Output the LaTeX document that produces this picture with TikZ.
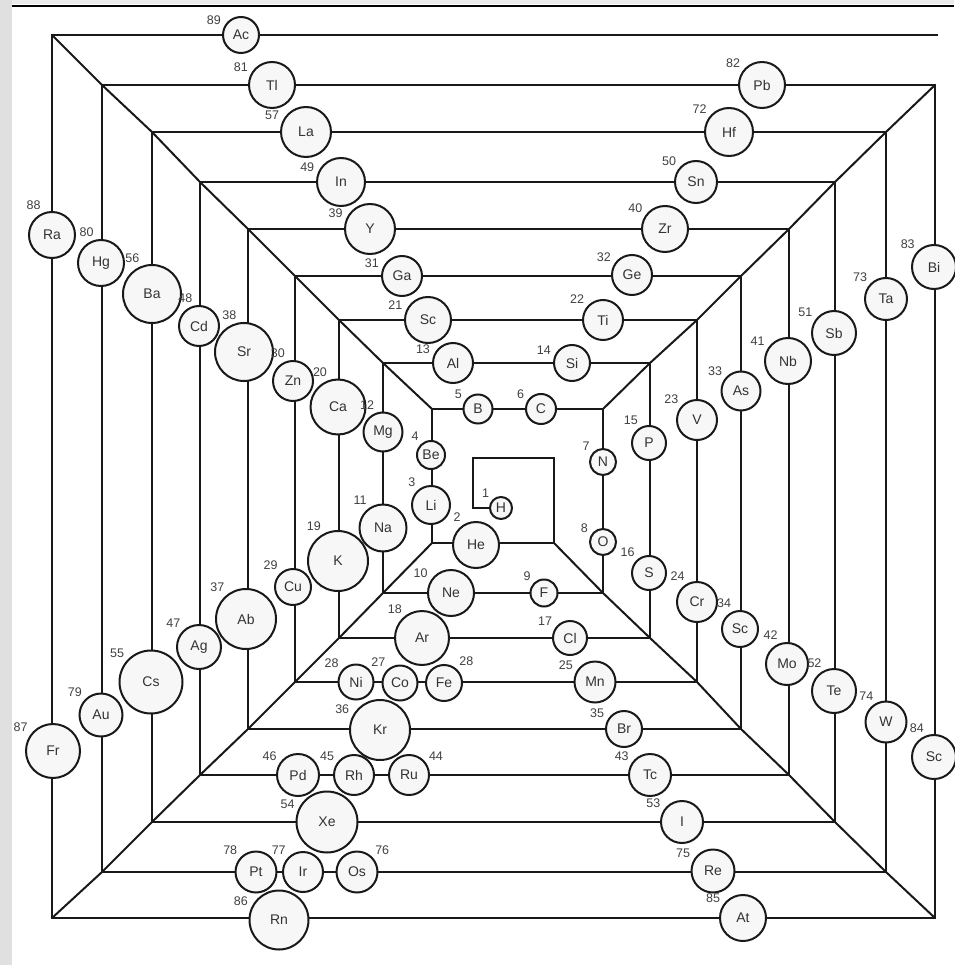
\documentclass[tikz,border=0pt]{standalone}
\usepackage{fontspec}
\setmainfont{Liberation Sans}
\usetikzlibrary{backgrounds}
\begin{document}
\begin{tikzpicture}[x=1pt,y=-1pt,line width=2pt,
  elem/.style={circle,draw=black!90,fill=black!3,inner sep=0pt,text=black!80,font=\fontsize{14}{14}\selectfont},
  num/.style={inner sep=0pt,text=black!75,font=\fontsize{12.5}{12.5}\selectfont},
  spiral/.style={draw=black!90,line width=2pt}]
\useasboundingbox (0,0) rectangle (954,965);
\foreach \k/\l/\t/\r/\b/\u in {0/52/35/935/918/85,1/102/85/886/872/132,2/152/132/835/822/182,
  3/200/182/789/775/229,4/248/229/741/729/276,5/295/276/697/682/320,6/339/320/650/638/363,
  7/383/363/603/593/409,8/432/409/554/543/458}{
  \coordinate (tl\k) at (\l,\t); \coordinate (bl\k) at (\l,\b);
  \coordinate (br\k) at (\r,\b); \coordinate (tr\k) at (\r,\u);}
\coordinate (tl9) at (473,458); \coordinate (hk) at (473,508); \coordinate (acend) at (938,35);
\coordinate (edge) at (12,6); \coordinate (edgeend) at (954,6);
\foreach \nm/\x/\y/\r/\sy/\z/\a in {
  Ac/241/35/18/Ac/89/153, Tl/272/85/23/Tl/81/151, La/306/132/25/La/57/156, In/341/182/24/In/49/160,
  Y/370/229/25/Y/39/158, Ga/402/276/20/Ga/31/161, Sc/428/320/23/Sc/21/159, Al/453/363/20/Al/13/160,
  B/478/409/14.5/B/5/147, C/541/409/15/C/6/149, Si/572/363/18/Si/14/160, Ti/603/320/20/Ti/22/140,
  Ge/632/275/20/Ge/32/149, Zr/665/229/23/Zr/40/145, Sn/696/182/21/Sn/50/141, Hf/729/132/24/Hf/72/141,
  Pb/762/85/23/Pb/82/142,
  Ra/52/235/23/Ra/88/113, Hg/101/263/23/Hg/80/104, Ba/152/294/29/Ba/56/111, Cd/199/326/20/Cd/48/104,
  Sr/244/352/29/Sr/38/102, Zn/293/381/20/Zn/30/108, Ca/338/407/27.5/Ca/20/109, Mg/383/432/19.5/Mg/12/110,
  Be/431/455/14/Be/4/131, Li/431/505/19/Li/3/131, Na/383/528/23.5/Na/11/125, K/338/561/30/K/19/119,
  Cu/293/587/18/Cu/29/132, Rb/246/619/30/Ab/37/128, Ag/199/647/22/Ag/47/134, Cs/151/682/31.5/Cs/55/138,
  Au/101/715/21.5/Au/79/137, Fr/53/751/27/Fr/87/143,
  H/501/508/11/H/1/139, He/476/545/23/He/2/123, Ne/451/593/23/Ne/10/148, F/544/593/13.5/F/9/137,
  Ar/422/638/27/Ar/18/129, Cl/570/638/17/Cl/17/146, N/603/462/13/N/7/139, O/603/542/13/O/8/149,
  P/649/443/17/P/15/120, S/649/573/17/S/16/131,
  V/697/420/20/V/23/139, As/741/391/19.5/As/33/141, Nb/788/361/23/Nb/41/148, Sb/834/333/22/Sb/51/144,
  Ta/886/299/21/Ta/73/137, Bi/934/267/22/Bi/83/136, Cr/697/602/20/Cr/24/119, Se/740/629/18/Sc/34/112,
  Mo/787/664/21/Mo/42/110, Te/834/691/22/Te/52/117, W/886/722/20.5/W/74/119, Po/934/757/22/Sc/84/111,
  Mn/595/682/20.5/Mn/25/152, Br/624/729/18/Br/35/152, Tc/650/775/21/Tc/43/146, I/682/822/21/I/53/148,
  Re/713/871/21.5/Re/75/151, At/743/918/23/At/85/146,
  Ni/356/682/17.5/Ni/28/142, Co/400/683/17.5/Co/27/131, Fe/444/683/18/Fe/28/48, Kr/380/730/30/Kr/36/153,
  Pd/298/775/21/Pd/46/147, Rh/354/775/20/Rh/45/144, Ru/409/775/20/Ru/44/36, Xe/327/822/30.5/Xe/54/158,
  Pt/256/872/20.5/Pt/78/138, Ir/303/872/20/Ir/77/134, Os/357/872/20.5/Os/76/44, Rn/279/920/29.5/Rn/86/156}{
  \node[elem,minimum size=2*\r,label={[num,name=n\nm,label distance=2.5pt]\a:\z}] (\nm) at (\x,\y) {\sy};}
\begin{scope}[on background layer]
\fill[black!12] (0,0) rectangle (12,965); \fill[black!8] (12,0) rectangle (954,4);
\draw[line width=2.8pt] (edge) -- (edgeend);
\draw[spiral] (acend) foreach \k in {0,...,8}{ -- (tl\k) -- (bl\k) -- (br\k) -- (tr\k)} -- (tl9) -- (hk) -- (H);
\draw[spiral] (tl0) foreach \k in {1,...,8}{ -- (tl\k)};
\draw[spiral] (bl0) foreach \k in {1,...,8}{ -- (bl\k)};
\draw[spiral] (br0) foreach \k in {1,...,8}{ -- (br\k)};
\draw[spiral] (tr0) foreach \k in {1,...,7}{ -- (tr\k)};
\end{scope}
\end{tikzpicture}
\end{document}
